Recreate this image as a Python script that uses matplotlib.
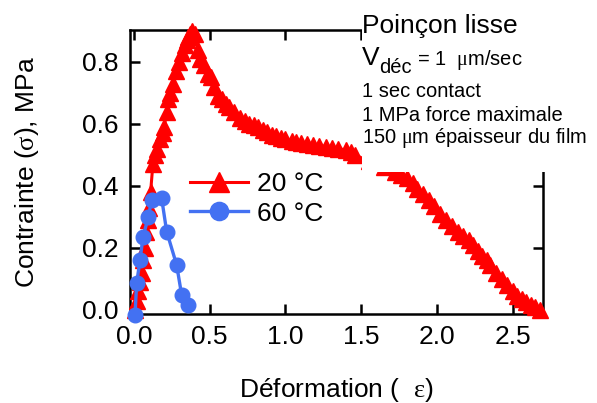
import matplotlib
matplotlib.use('Agg')
import matplotlib.pyplot as plt
from matplotlib.patches import Rectangle

plt.rcParams['font.family'] = ['Liberation Sans', 'DejaVu Sans']
plt.rcParams['mathtext.fontset'] = 'custom'
plt.rcParams['mathtext.rm'] = 'Liberation Serif'

# 20 C (triangles)
x20 = [0.01, 0.02, 0.03, 0.04, 0.05, 0.06, 0.07, 0.08, 0.09, 0.10, 0.11, 0.125,
       0.14, 0.155, 0.175, 0.19, 0.20, 0.215, 0.225, 0.24, 0.26, 0.28, 0.30,
       0.32, 0.34, 0.35, 0.36, 0.37, 0.38,
       0.40, 0.42, 0.435, 0.46, 0.49, 0.51, 0.53, 0.555, 0.58, 0.61, 0.63, 0.66,
       0.70, 0.73, 0.76, 0.79, 0.82, 0.85, 0.88, 0.91, 0.94, 0.97, 1.00, 1.04,
       1.07, 1.10, 1.14, 1.18, 1.22, 1.27, 1.31, 1.35, 1.40, 1.43, 1.46,
       1.55, 1.65, 1.72, 1.76, 1.80, 1.84, 1.87, 1.91, 1.95, 1.98, 2.02, 2.06,
       2.10, 2.14, 2.17, 2.21, 2.24, 2.27, 2.30, 2.33, 2.35, 2.39, 2.43, 2.46,
       2.50, 2.53, 2.56, 2.59, 2.62, 2.65, 2.68]
y20 = [0.0, 0.03, 0.06, 0.09, 0.12, 0.16, 0.20, 0.25, 0.29, 0.33, 0.38, 0.47,
       0.50, 0.52, 0.55, 0.57, 0.59, 0.64, 0.68, 0.70, 0.73, 0.77, 0.80,
       0.83, 0.855, 0.87, 0.88, 0.89, 0.90,
       0.89, 0.84, 0.81, 0.79, 0.76, 0.75, 0.72, 0.69, 0.68, 0.665, 0.655, 0.64,
       0.62, 0.61, 0.60, 0.595, 0.59, 0.58, 0.575, 0.565, 0.56, 0.555, 0.55, 0.545,
       0.542, 0.54, 0.535, 0.532, 0.53, 0.527, 0.522, 0.52, 0.516, 0.51, 0.50,
       0.48, 0.46, 0.445, 0.435, 0.425, 0.41, 0.39, 0.375, 0.355, 0.335, 0.31, 0.29,
       0.27, 0.25, 0.24, 0.225, 0.21, 0.19, 0.175, 0.16, 0.145, 0.12, 0.10, 0.08,
       0.06, 0.045, 0.035, 0.026, 0.015, 0.008, 0.0]

# 60 C (circles)
x60 = [0.007, 0.018, 0.04, 0.06, 0.095, 0.117, 0.183, 0.216, 0.282, 0.315, 0.358]
y60 = [-0.016, 0.087, 0.16, 0.236, 0.30, 0.355, 0.36, 0.253, 0.145, 0.048, 0.016]

xticks = [0.0, 0.5, 1.0, 1.5, 2.0, 2.5]
yticks = [0.0, 0.2, 0.4, 0.6, 0.8]

red = '#FF0000'
blue = '#4371F2'

W, H = 597, 403
fig = plt.figure(figsize=(W / 100, H / 100), dpi=100)
ax = fig.add_axes([130 / W, 1 - 314 / H, 413 / W, 284 / H])

ax.plot(x20, y20, color=red, lw=2.2, marker='^', ms=11, clip_on=False,
        label='20 °C', zorder=3)
ax.plot(x60, y60, color=blue, lw=2.4, marker='o', ms=10.5, clip_on=False,
        label='60 °C', zorder=4)

ax.set_xlim(-0.026, 2.70)
ax.set_ylim(-0.013, 0.903)
ax.set_xticks(xticks)
ax.set_yticks(yticks)
ax.tick_params(direction='in', length=7, width=1.8, top=True, right=True,
               labelsize=19, pad=8)
for s in ax.spines.values():
    s.set_linewidth(1.8)

ax.set_xlabel(r'Déformation (  $\mathrm{ε}$)', fontsize=19, labelpad=19)
ax.set_ylabel(r'Contrainte ($\mathrm{σ}$), MPa', fontsize=19, labelpad=30)

ax.legend(loc='center left', bbox_to_anchor=(190 / W, 1 - 199 / H),
          bbox_transform=fig.transFigure, frameon=False, fontsize=19,
          handlelength=2.2, handletextpad=0.35, labelspacing=0.2,
          borderpad=0, borderaxespad=0, markerscale=1.25)

# white box hiding the upper right corner, with the test conditions
fig.add_artist(Rectangle((362 / W, 1 - 172 / H), 1, 1, transform=fig.transFigure,
                         facecolor='white', edgecolor='none', zorder=5))


def ftxt(px, py, s, size):
    fig.text(px / W, 1 - py / H, s, fontsize=size, va='baseline', ha='left',
             zorder=6)


ftxt(362, 33, 'Poinçon lisse', 19)
ftxt(362, 65, 'V', 19)
ftxt(379, 73, 'déc', 14.5)
ftxt(417, 65, r'= 1  $\mathrm{μ}$m/sec', 14.5)
ftxt(362, 97, '1 sec contact', 14.5)
ftxt(362, 121, '1 MPa force maximale', 14.5)
ftxt(362, 143, r'150 $\mathrm{μ}$m épaisseur du film', 14.5)

fig.savefig('out.png', dpi=100)
